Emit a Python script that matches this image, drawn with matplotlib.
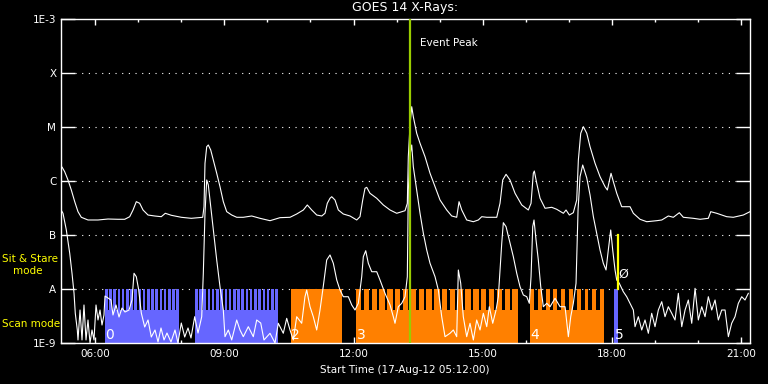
import numpy as np
import matplotlib
matplotlib.use('Agg')
import matplotlib.pyplot as plt
from matplotlib.ticker import NullLocator

# ---------------- data (hours of day, log10 flux W/m^2) ----------------
long_hours = [5.205, 5.235, 5.297, 5.374, 5.451, 5.530, 5.606, 5.683, 5.838, 6.070,
              6.302, 6.534, 6.690, 6.806, 6.883, 6.959, 7.038, 7.115, 7.231, 7.386,
              7.539, 7.632, 7.771, 8.003, 8.235, 8.500, 8.530, 8.553, 8.593, 8.630,
              8.686, 8.746, 8.825, 8.901, 8.978, 9.057, 9.173, 9.289, 9.442, 9.637,
              9.830, 10.062, 10.294, 10.526, 10.681, 10.835, 10.927, 11.030, 11.146, 11.262,
              11.338, 11.391, 11.454, 11.494, 11.570, 11.647, 11.763, 11.918, 12.074, 12.150,
              12.213, 12.266, 12.306, 12.382, 12.538, 12.691, 12.847, 13.002, 13.195, 13.248,
              13.271, 13.311, 13.350, 13.387, 13.466, 13.543, 13.659, 13.775, 13.891, 14.007,
              14.162, 14.278, 14.394, 14.448, 14.511, 14.626, 14.780, 14.896, 14.975, 15.091,
              15.323, 15.399, 15.462, 15.539, 15.631, 15.748, 15.903, 16.056, 16.119, 16.172,
              16.195, 16.251, 16.328, 16.444, 16.599, 16.715, 16.869, 16.931, 17.008, 17.100,
              17.179, 17.217, 17.272, 17.333, 17.412, 17.488, 17.604, 17.720, 17.836, 17.890,
              17.975, 18.029, 18.108, 18.223, 18.340, 18.416, 18.493, 18.648, 18.804, 19.036,
              19.152, 19.305, 19.421, 19.560, 19.653, 19.885, 20.041, 20.233, 20.289, 20.428,
              20.660, 20.813, 21.045, 21.200]
long_logflux = [-5.765, -5.741, -5.828, -5.981, -6.167, -6.383, -6.568, -6.672, -6.722, -6.722,
                -6.704, -6.709, -6.709, -6.661, -6.537, -6.383, -6.413, -6.537, -6.630, -6.648,
                -6.661, -6.598, -6.635, -6.672, -6.691, -6.672, -6.476, -5.672, -5.365, -5.333,
                -5.426, -5.611, -5.857, -6.105, -6.383, -6.568, -6.630, -6.672, -6.672, -6.648,
                -6.691, -6.735, -6.679, -6.672, -6.611, -6.537, -6.444, -6.537, -6.630, -6.648,
                -6.598, -6.413, -6.320, -6.291, -6.352, -6.537, -6.611, -6.648, -6.722, -6.661,
                -6.352, -6.135, -6.117, -6.228, -6.320, -6.444, -6.537, -6.598, -6.550, -6.413,
                -5.550, -4.963, -4.624, -4.809, -5.117, -5.302, -5.550, -5.857, -6.105, -6.352,
                -6.537, -6.648, -6.672, -6.383, -6.537, -6.722, -6.754, -6.722, -6.661, -6.672,
                -6.672, -6.413, -5.981, -5.876, -5.981, -6.228, -6.444, -6.537, -6.413, -5.857,
                -5.815, -6.042, -6.320, -6.505, -6.487, -6.524, -6.598, -6.537, -6.630, -6.587,
                -6.352, -5.611, -5.117, -4.994, -5.117, -5.365, -5.672, -5.920, -6.105, -6.167,
                -5.857, -6.013, -6.228, -6.476, -6.476, -6.476, -6.598, -6.709, -6.754, -6.735,
                -6.722, -6.648, -6.672, -6.587, -6.672, -6.691, -6.709, -6.691, -6.568, -6.598,
                -6.661, -6.672, -6.630, -6.568]

short_hours = [5.205, 5.258, 5.335, 5.414, 5.467, 5.514, 5.543, 5.590, 5.606, 5.653,
               5.699, 5.745, 5.792, 5.838, 5.885, 5.931, 5.977, 6.024, 6.070, 6.117,
               6.163, 6.209, 6.233, 6.302, 6.372, 6.418, 6.488, 6.558, 6.627, 6.697,
               6.790, 6.859, 6.906, 6.959, 7.015, 7.075, 7.154, 7.231, 7.307, 7.393,
               7.463, 7.532, 7.602, 7.671, 7.764, 7.857, 7.926, 8.003, 8.082, 8.159,
               8.228, 8.314, 8.391, 8.477, 8.514, 8.553, 8.593, 8.630, 8.669, 8.746,
               8.825, 8.901, 8.978, 9.017, 9.094, 9.173, 9.289, 9.365, 9.442, 9.558,
               9.674, 9.753, 9.846, 9.922, 10.062, 10.178, 10.254, 10.370, 10.449, 10.526,
               10.602, 10.681, 10.797, 10.873, 10.913, 10.990, 11.066, 11.145, 11.222, 11.299,
               11.377, 11.454, 11.531, 11.610, 11.686, 11.763, 11.879, 11.958, 12.034, 12.111,
               12.190, 12.227, 12.283, 12.343, 12.422, 12.538, 12.614, 12.730, 12.847, 12.923,
               12.962, 13.039, 13.118, 13.195, 13.248, 13.271, 13.311, 13.350, 13.387, 13.466,
               13.543, 13.620, 13.698, 13.775, 13.891, 13.968, 14.046, 14.123, 14.239, 14.316,
               14.394, 14.432, 14.487, 14.547, 14.626, 14.703, 14.780, 14.858, 14.935, 15.012,
               15.091, 15.151, 15.230, 15.307, 15.360, 15.399, 15.439, 15.476, 15.539, 15.615,
               15.708, 15.787, 15.863, 15.940, 16.019, 16.079, 16.119, 16.158, 16.188, 16.235,
               16.288, 16.344, 16.404, 16.483, 16.560, 16.676, 16.792, 16.908, 16.985, 17.040,
               17.100, 17.163, 17.210, 17.256, 17.318, 17.412, 17.488, 17.565, 17.643, 17.720,
               17.796, 17.859, 17.912, 17.968, 18.014, 18.068, 18.107, 18.167, 18.260, 18.339,
               18.416, 18.493, 18.532, 18.609, 18.687, 18.764, 18.841, 18.919, 18.996, 19.073,
               19.152, 19.228, 19.305, 19.384, 19.460, 19.537, 19.616, 19.693, 19.769, 19.848,
               19.925, 20.001, 20.080, 20.157, 20.233, 20.312, 20.389, 20.465, 20.544, 20.621,
               20.698, 20.775, 20.852, 20.929, 21.008, 21.084, 21.161]
short_logflux = [-6.524, -6.598, -6.907, -7.339, -7.709, -8.079, -8.450, -8.759, -8.944, -8.389,
                 -8.944, -8.296, -8.944, -8.574, -9.000, -8.759, -8.944, -8.296, -8.574, -8.389,
                 -8.667, -8.481, -8.130, -8.167, -8.204, -8.481, -8.296, -8.519, -8.352, -8.426,
                 -8.389, -8.204, -7.709, -7.772, -8.019, -8.444, -8.704, -8.574, -8.889, -8.759,
                 -8.981, -8.722, -8.944, -8.815, -8.981, -8.759, -9.000, -8.630, -8.889, -8.722,
                 -8.907, -8.513, -8.815, -8.513, -7.709, -6.598, -5.981, -6.074, -6.352, -6.907,
                 -7.463, -7.957, -8.389, -8.883, -8.759, -8.944, -8.574, -8.759, -8.883, -8.698,
                 -8.883, -8.574, -8.630, -8.944, -8.820, -9.000, -8.635, -8.820, -8.543, -8.759,
                 -8.944, -8.513, -8.635, -8.143, -8.019, -8.328, -8.513, -8.759, -8.389, -7.944,
                 -7.463, -7.370, -7.524, -7.833, -8.019, -8.143, -8.143, -8.296, -8.389, -8.265,
                 -7.772, -7.402, -7.291, -7.524, -7.680, -7.680, -7.833, -8.080, -8.296, -8.513,
                 -8.635, -8.328, -8.265, -8.143, -7.772, -6.167, -5.519, -5.333, -5.735, -6.167,
                 -6.598, -6.969, -7.278, -7.524, -7.772, -8.019, -8.513, -8.883, -8.820, -8.759,
                 -8.883, -7.648, -7.894, -8.513, -8.883, -8.635, -8.944, -8.574, -8.759, -8.450,
                 -8.698, -8.328, -8.635, -8.389, -8.143, -7.648, -7.154, -6.772, -6.846, -7.093,
                 -7.402, -7.709, -7.957, -8.111, -8.143, -8.265, -7.772, -6.846, -6.722, -7.093,
                 -7.463, -7.957, -8.328, -8.265, -8.328, -8.172, -8.328, -8.328, -8.883, -8.513,
                 -8.265, -7.894, -6.537, -5.920, -5.704, -5.944, -6.259, -6.661, -6.969, -7.278,
                 -7.524, -7.648, -7.278, -6.907, -7.278, -7.648, -7.833, -7.894, -8.050, -8.143,
                 -8.265, -8.389, -8.698, -8.513, -8.759, -8.574, -8.820, -8.450, -8.698, -8.389,
                 -8.235, -8.513, -8.328, -8.450, -8.574, -8.080, -8.698, -8.389, -8.204, -8.635,
                 -7.987, -8.574, -8.328, -8.513, -8.143, -8.389, -8.204, -8.574, -8.389, -8.389,
                 -8.883, -8.635, -8.513, -8.265, -8.143, -8.204, -8.080]

# observing blocks (hours of day)
block_start = [6.233, 8.321, 10.549, 12.058, 16.096, 18.045]
block_end = [7.950, 10.241, 11.733, 15.810, 17.813, 18.138]
block_teeth = [18, 20, 0, 21, 10, 0]
block_labels = ['0', '', '2', '3', '4', '5']
block_colors = ['#6666ff', '#6666ff', '#ff8000', '#ff8000', '#ff8000', '#6666ff']
block_duty = [0.6, 0.6, 1.0, 0.68, 0.5, 1.0]
scan_base = -8.389   # log10 top of solid part of scan blocks

event_peak = 13.311
sitstare_time = 18.131
sitstare_label_time = 18.145

ytick_vals = [1e-9, 1e-8, 1e-7, 1e-6, 1e-5, 1e-4, 1e-3]
ytick_labels = ['1E-9', 'A', 'B', 'C', 'M', 'X', '1E-3']
xtick_vals = [6, 9, 12, 15, 18, 21]
xtick_labels = ['06:00', '09:00', '12:00', '15:00', '18:00', '21:00']
xminor_vals = [6, 7, 8, 9, 10, 11, 12, 13, 14, 15, 16, 17, 18, 19, 20, 21]

# ---------------- figure ----------------
W, H = 768, 384
fig = plt.figure(figsize=(W / 100, H / 100), dpi=100, facecolor='black')
ax = fig.add_axes([60.5 / W, 1 - 343 / H, (750 - 60.5) / W, (343 - 19) / H])
ax.set_facecolor('black')
ax.set_yscale('log')
ax.set_xlim(5.2, 21.2)
ax.set_ylim(1e-9, 1e-3)

for s in ax.spines.values():
    s.set_color('white')
    s.set_linewidth(1.0)

# dotted level lines
for v in ytick_vals[1:-1]:
    ax.axhline(v, xmin=14 / 689.5, xmax=1 - 14 / 689.5, color='white',
               lw=0.8, ls=(0, (1, 5)), zorder=1)

# blocks
for st, en, nt, c, d in zip(block_start, block_end, block_teeth, block_colors, block_duty):
    if nt == 0:
        ax.bar(st, 1e-8 - 1e-9, width=en - st, bottom=1e-9, align='edge',
               color=c, edgecolor='none', zorder=2)
    else:
        ax.bar(st, 10 ** scan_base - 1e-9, width=en - st, bottom=1e-9, align='edge',
               color=c, edgecolor='none', zorder=2)
        p = (en - st) / (nt - 1 + d)
        xs = [st + i * p for i in range(nt)]
        ax.bar(xs, 1e-8 - 10 ** scan_base, width=p * d, bottom=10 ** scan_base,
               align='edge', color=c, edgecolor='none', zorder=2)

for st, lab in zip(block_start, block_labels):
    if lab:
        ax.text(st + 0.01, 10 ** -8.926, lab, ha='left', va='baseline', color='white',
                fontsize=10, zorder=3)

# curves
ax.plot(long_hours, 10 ** np.array(long_logflux), color='white', lw=0.8, zorder=4)
ax.plot(short_hours, 10 ** np.array(short_logflux), color='white', lw=0.8, zorder=4)

# event peak & sit-and-stare markers
ax.axvline(event_peak, color='#99cc00', lw=1.6, zorder=5)
ax.plot([sitstare_time, sitstare_time], [1e-8, 1e-7], color='#ffff00', lw=1.6, zorder=5)
ax.text(sitstare_label_time, 10 ** -7.79, 'Ø', ha='left', va='baseline', color='white',
        fontsize=9, zorder=6)

# ticks
ax.set_xticks(xtick_vals)
ax.set_xticklabels(xtick_labels)
ax.set_xticks(xminor_vals, minor=True)
ax.tick_params(axis='x', which='major', direction='in', length=4.5, width=1,
               colors='white', top=True, bottom=True, labelsize=7.5, pad=4)
ax.tick_params(axis='x', which='minor', direction='in', length=2.5, width=1,
               colors='white', top=True, bottom=True)
ax.set_yticks(ytick_vals)
ax.set_yticklabels(ytick_labels)
ax.yaxis.set_minor_locator(NullLocator())
ax.tick_params(axis='y', which='major', direction='in', length=10, width=1,
               colors='white', left=True, right=True, labelsize=7.5, pad=3)

# texts
fig.text(405 / W, 1 - 8 / H, 'GOES 14 X-Rays:', ha='center', va='center',
         color='white', fontsize=9)
fig.text(420 / W, 1 - 43 / H, 'Event Peak', ha='left', va='center',
         color='white', fontsize=7.5)
fig.text(405 / W, 1 - 370 / H, 'Start Time (17-Aug-12 05:12:00)', ha='center',
         va='center', color='white', fontsize=7.5)
fig.text(2 / W, 1 - 259 / H, 'Sit & Stare', ha='left', va='center',
         color='#ffff00', fontsize=7.5)
fig.text(12.5 / W, 1 - 271 / H, 'mode', ha='left', va='center',
         color='#ffff00', fontsize=7.5)
fig.text(2 / W, 1 - 324 / H, 'Scan mode', ha='left', va='center',
         color='#ffff00', fontsize=7.5)

fig.savefig('out.png', dpi=100, facecolor='black')
